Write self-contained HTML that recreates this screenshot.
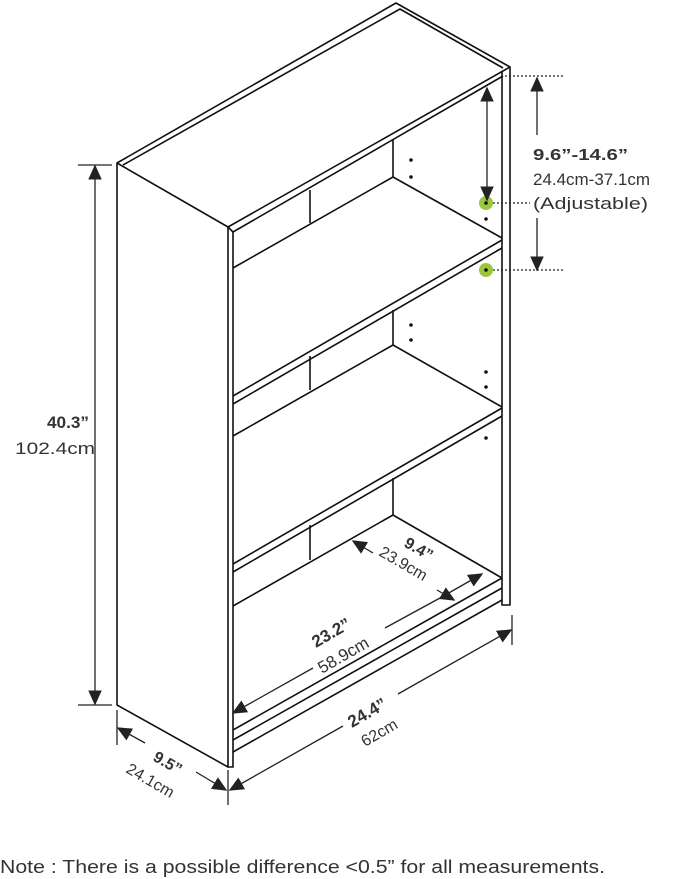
<!DOCTYPE html>
<html><head><style>
body{margin:0;background:#fff;width:679px;height:879px;overflow:hidden}
svg{position:absolute;left:0;top:0}
text{font-family:"Liberation Sans",sans-serif;fill:#333}
</style></head><body>
<svg width="679" height="879" viewBox="0 0 679 879">
<defs>
<marker id="a" viewBox="0 0 10 10" refX="9" refY="5" markerWidth="11" markerHeight="11" orient="auto-start-reverse" markerUnits="userSpaceOnUse"><path d="M0,0.5L10,5L0,9.5z" fill="#222"/></marker>
<marker id="b" viewBox="0 0 10 10" refX="9" refY="5" markerWidth="15" markerHeight="15" orient="auto-start-reverse" markerUnits="userSpaceOnUse"><path d="M0,0.5L10,5L0,9.5z" fill="#222"/></marker>
</defs>
<g stroke="#111" stroke-width="1.6" fill="none" stroke-linejoin="round">
<path d="M117,163 L396,3 L510,67 L228,227 Z"/>
<path d="M123,165 L400,9 L503,68"/>
<path d="M228,227 L233,232 L503,76"/>
<path d="M117,163 L117,705 L228,767 L228,227"/>
<path d="M233,232 L233,767 L228,767"/>
<path d="M510,67 L510,605 L502,605 L502,72"/>
<path d="M233,268 L393,177 L393,140"/>
<path d="M310,223 L310,190"/>
<path d="M393,177 L502,238"/>
<path d="M233,396 L502,240"/>
<path d="M233,404 L502,248"/>
<path d="M233,436 L393,345 L393,310"/>
<path d="M310,390 L310,356"/>
<path d="M393,345 L502,407"/>
<path d="M233,564 L502,408"/>
<path d="M233,572 L502,416"/>
<path d="M233,606 L393,515 L393,478"/>
<path d="M310,560 L310,525"/>
<path d="M393,515 L502,578"/>
<path d="M233,730 L502,578"/>
<path d="M233,740 L502,588"/>
<path d="M233,752 L502,600"/>
</g>
<g fill="#111">
<circle cx="411" cy="160" r="1.8"/><circle cx="411" cy="177" r="1.8"/><circle cx="486" cy="219" r="1.8"/>
<circle cx="411" cy="325" r="1.8"/><circle cx="411" cy="340" r="1.8"/><circle cx="486" cy="372" r="1.8"/><circle cx="486" cy="387" r="1.8"/>
<circle cx="486" cy="438" r="1.8"/>
</g>
<circle cx="486" cy="203" r="7" fill="#9ac53c"/><circle cx="486" cy="203" r="1.8" fill="#111"/>
<circle cx="486" cy="270" r="7" fill="#9ac53c"/><circle cx="486" cy="270" r="1.8" fill="#111"/>
<g stroke="#222" stroke-width="1.3" fill="none">
<path d="M505,76 L565,76 M493,203 L530,203 M493,270 L565,270" stroke-dasharray="2,2"/>
<path d="M78,165 L112,165 M78,705 L112,705"/>
<path d="M95,166 L95,704" marker-start="url(#b)" marker-end="url(#b)"/>
<path d="M537,135 L537,78" marker-end="url(#b)"/>
<path d="M537,218 L537,270" marker-end="url(#b)"/>
<path d="M487,88 L487,200" marker-start="url(#b)" marker-end="url(#b)"/>
<path d="M117,710 L117,745 M228,770 L228,805 M512,615 L512,645"/>
<path d="M145,743 L118,728" marker-end="url(#b)"/>
<path d="M196,772 L226,790" marker-end="url(#b)"/>
<path d="M343,726 L230,790" marker-end="url(#b)"/>
<path d="M398,694 L511,630" marker-end="url(#b)"/>
<path d="M313,668 L233,713" marker-end="url(#b)"/>
<path d="M385,628 L440,598"/>
<path d="M440,598 L482,574" marker-end="url(#b)"/>
<path d="M373,553 L353,541" marker-end="url(#b)"/>
<path d="M437,590 L454,600" marker-end="url(#b)"/>
</g>
<text x="47" y="428" font-size="17" font-weight="bold" textLength="42" lengthAdjust="spacingAndGlyphs">40.3”</text>
<text x="15" y="454" font-size="17" textLength="80" lengthAdjust="spacingAndGlyphs">102.4cm</text>
<text x="533" y="160" font-size="16" font-weight="bold" textLength="95" lengthAdjust="spacingAndGlyphs">9.6”-14.6”</text>
<text x="533" y="185" font-size="17" textLength="117" lengthAdjust="spacingAndGlyphs">24.4cm-37.1cm</text>
<text x="533" y="209" font-size="17" textLength="115" lengthAdjust="spacingAndGlyphs">(Adjustable)</text>
<text transform="translate(152,760) rotate(30)" font-size="16" font-weight="bold">9.5”</text>
<text transform="translate(125,772) rotate(30)" font-size="16">24.1cm</text>
<text transform="translate(352,728) rotate(-30)" font-size="17" font-weight="bold">24.4”</text>
<text transform="translate(365,747) rotate(-30)" font-size="16">62cm</text>
<text transform="translate(316,648) rotate(-30)" font-size="17" font-weight="bold">23.2”</text>
<text transform="translate(322,674) rotate(-30)" font-size="17">58.9cm</text>
<text transform="translate(403,546) rotate(30)" font-size="16" font-weight="bold">9.4”</text>
<text transform="translate(378,555) rotate(30)" font-size="16">23.9cm</text>
<text x="0" y="873" font-size="18" textLength="605" lengthAdjust="spacingAndGlyphs">Note : There is a possible difference &lt;0.5” for all measurements.</text>
</svg>
</body></html>
